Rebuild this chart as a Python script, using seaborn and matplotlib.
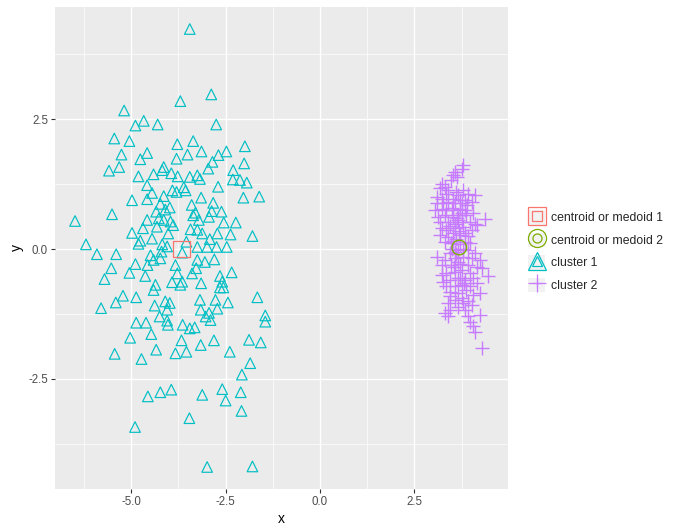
import numpy as np
import pandas as pd
import matplotlib
matplotlib.use("Agg")
import matplotlib.pyplot as plt
import seaborn as sns
from matplotlib.lines import Line2D
from matplotlib.patches import Patch
from matplotlib.legend_handler import HandlerTuple

# ===============================
# DATA
# ===============================
cluster1_x = [
    -3.45, -2.88, -3.70, -5.19, -4.67, -4.89, -4.30, -2.75, -5.45, -5.05,
    -3.78, -3.36, -1.99, -5.26, -4.58, -4.76, -3.80, -3.51, -3.14, -2.48,
    -2.69, -2.85, -2.01, -5.59, -5.32, -4.14, -2.96, -2.30, -4.81, -4.41,
    -4.18, -3.94, -3.77, -3.45, -3.25, -3.18, -2.31, -2.12, -1.94, -4.58,
    -4.45, -3.91, -3.80, -3.61, -3.56, -2.70, -4.14, -4.98, -4.58, -3.15,
    -2.03, -1.61, -2.83, -4.23, -5.51, -4.34, -4.10, -2.87, -2.61, -3.36,
    -6.49, -4.58, -4.27, -4.14, -3.96, -3.89, -3.21, -2.94, -2.55, -2.23,
    -4.32, -4.69, -4.98, -3.43, -3.25, -3.12, -2.72, -2.37, -1.79, -4.76,
    -2.92, -6.20, -4.18, -3.54, -5.91, -5.40, -4.81, -4.05, -3.65, -3.25,
    -2.99, -2.74, -2.47, -4.89, -4.49, -4.41, -4.23, -4.57, -5.53, -5.05,
    -5.71, -4.63, -3.83, -3.78, -3.25, -3.39, -3.28, -3.92, -3.65, -3.70,
    -3.15, -2.65, -2.59, -2.34, -2.65, -2.56, -4.36, -4.41, -5.22, -4.87,
    -1.66, -5.41, -5.80, -4.38, -4.10, -3.98, -4.05, -3.18, -2.77, -2.44,
    -3.16, -2.94, -2.72, -3.03, -2.90, -1.45, -1.45, -4.87, -4.61, -4.25,
    -4.05, -4.03, -3.64, -3.45, -3.32, -4.47, -5.03, -3.67, -2.81, -3.16,
    -1.88, -1.57, -5.44, -4.34, -3.83, -3.54, -2.39, -4.73, -1.85, -2.07,
    -4.56, -4.23, -3.94, -3.12, -2.59, -2.10, -2.50, -2.08, -3.46, -4.90,
    -2.99, -1.79, -4.02, -3.98, -3.30, -3.05, -4.45, -4.20, -3.40, -2.80,
]
cluster1_y = [
    4.24, 2.98, 2.85, 2.67, 2.47, 2.38, 2.40, 2.40, 2.13, 2.08,
    2.02, 2.08, 1.98, 1.82, 1.85, 1.73, 1.74, 1.82, 1.88, 1.88,
    1.81, 1.68, 1.65, 1.51, 1.58, 1.58, 1.55, 1.52, 1.40, 1.44,
    1.52, 1.46, 1.40, 1.39, 1.42, 1.35, 1.34, 1.33, 1.28, 1.23,
    1.08, 1.13, 1.10, 1.19, 1.13, 1.20, 1.02, 0.94, 0.96, 0.99,
    0.99, 1.01, 0.89, 0.87, 0.67, 0.72, 0.76, 0.73, 0.72, 0.65,
    0.54, 0.56, 0.59, 0.56, 0.53, 0.46, 0.56, 0.62, 0.51, 0.51,
    0.43, 0.40, 0.31, 0.38, 0.37, 0.30, 0.30, 0.28, 0.25, 0.16,
    0.19, 0.09, 0.09, 0.14, -0.10, -0.10, 0.10, 0.05, -0.07, 0.04,
    0.04, 0.04, 0.04, -0.29, -0.12, -0.21, -0.18, -0.31, -0.37, -0.46,
    -0.58, -0.52, -0.31, -0.47, -0.21, -0.47, -0.37, -0.64, -0.63, -0.69,
    -0.66, -0.52, -0.63, -0.45, -0.74, -0.74, -0.69, -0.79, -0.90, -0.93,
    -0.93, -1.03, -1.14, -1.09, -1.01, -1.04, -1.17, -0.98, -0.98, -1.03,
    -1.17, -1.23, -1.15, -1.30, -1.37, -1.28, -1.40, -1.42, -1.42, -1.30,
    -1.38, -1.46, -1.46, -1.53, -1.51, -1.64, -1.71, -1.76, -1.76, -1.85,
    -1.75, -1.80, -2.02, -1.94, -2.01, -1.98, -1.98, -2.12, -2.20, -2.42,
    -2.84, -2.76, -2.71, -2.81, -2.70, -2.76, -2.92, -3.12, -3.26, -3.43,
    -4.20, -4.19, 0.30, 0.80, 0.70, -0.25, 0.20, -0.05, 0.85, -0.20,
]

cluster2_x = [
    3.79, 3.75, 3.57, 3.53, 3.62, 3.48, 3.22, 3.31, 3.17, 3.40,
    3.79, 3.35, 3.09, 3.22, 3.53, 3.66, 3.93, 4.10, 3.09, 3.26,
    3.40, 3.57, 3.75, 3.84, 4.02, 3.04, 3.22, 3.35, 3.53, 3.71,
    3.84, 4.37, 3.13, 3.31, 3.53, 3.66, 3.88, 4.06, 3.17, 3.40,
    3.57, 3.75, 3.97, 4.10, 3.22, 3.35, 3.57, 3.79, 4.02, 4.15,
    3.17, 3.40, 3.53, 3.71, 3.93, 3.31, 3.48, 3.84, 3.97, 3.11,
    3.44, 3.66, 3.93, 4.10, 3.31, 3.57, 3.79, 4.02, 4.24, 3.22,
    3.48, 3.71, 3.93, 4.15, 4.28, 4.46, 3.22, 3.35, 3.57, 3.75,
    3.97, 3.26, 3.44, 3.66, 3.84, 4.06, 3.35, 3.57, 3.75, 3.97,
    4.15, 3.44, 3.66, 3.88, 4.06, 4.24, 3.40, 3.57, 3.75, 3.93,
    4.02, 3.31, 3.44, 3.66, 3.84, 4.24, 3.40, 3.93, 3.97, 4.06,
    4.10, 4.28, 3.79, 3.60, 3.70, 3.50, 3.80, 3.60, 3.45, 3.65,
    3.85, 3.55, 3.70, 3.50, 3.70, 3.90, 3.60, 3.45, 3.65, 3.75,
    3.62, 3.68, 3.58, 3.82, 3.52,
]
cluster2_y = [
    1.62, 1.55, 1.49, 1.42, 1.39, 1.33, 1.26, 1.20, 1.17, 1.13,
    1.13, 1.07, 1.01, 0.97, 0.97, 1.04, 1.07, 1.04, 0.88, 0.88,
    0.91, 0.88, 0.88, 0.94, 0.91, 0.75, 0.78, 0.75, 0.76, 0.78,
    0.75, 0.58, 0.62, 0.65, 0.62, 0.65, 0.65, 0.69, 0.53, 0.53,
    0.49, 0.53, 0.53, 0.49, 0.40, 0.37, 0.40, 0.43, 0.37, 0.46,
    0.27, 0.24, 0.30, 0.27, 0.25, 0.14, 0.11, 0.14, 0.11, -0.16,
    -0.08, -0.02, -0.02, -0.08, -0.21, -0.18, -0.15, -0.18, -0.21, -0.31,
    -0.31, -0.28, -0.31, -0.34, -0.37, -0.52, -0.50, -0.47, -0.44, -0.40,
    -0.47, -0.63, -0.60, -0.56, -0.60, -0.56, -0.72, -0.72, -0.69, -0.72,
    -0.66, -0.82, -0.85, -0.79, -0.88, -0.85, -1.04, -0.98, -0.95, -1.01,
    -1.08, -1.24, -1.17, -1.11, -1.17, -1.27, -1.30, -1.30, -1.40, -1.49,
    -1.59, -1.91, -1.04, 0.20, 0.10, 0.00, 0.00, -0.10, 0.45, 0.55,
    0.30, -0.35, -0.55, 0.80, 0.95, 0.85, 1.10, -0.90, -0.25, 0.70,
    0.60, 0.35, -0.05, -0.65, 0.15,
]

centroid_x = [-3.67, 3.69]
centroid_y = [0.00, 0.03]

labels = ["centroid or medoid 1", "centroid or medoid 2", "cluster 1", "cluster 2"]
colors = ["#F8766D", "#7CAE00", "#00BFC4", "#C77CFF"]

x_ticks = [-5.0, -2.5, 0.0, 2.5]
y_ticks = [-2.5, 0.0, 2.5]

df = pd.DataFrame({
    "x": cluster1_x + cluster2_x,
    "y": cluster1_y + cluster2_y,
    "group": ["cluster 1"] * len(cluster1_x) + ["cluster 2"] * len(cluster2_x),
})
cent = pd.DataFrame({"x": centroid_x, "y": centroid_y, "group": labels[:2]})

# ===============================
# STYLING (ggplot2 grey look)
# ===============================
sns.set_theme(style="darkgrid")
plt.rcParams["font.family"] = ["Liberation Sans", "DejaVu Sans"]

fig = plt.figure(figsize=(6.87, 5.32), dpi=100)
ax = fig.add_axes([0.0801, 0.0803, 0.6593, 0.9071])
ax.set_facecolor("#EBEBEB")

# ===============================
# POINTS
# ===============================
sub1 = df[df["group"] == "cluster 1"]
sub2 = df[df["group"] == "cluster 2"]
sns.scatterplot(data=sub1, x="x", y="y", marker="^", s=58, color=colors[2],
                linewidth=0.85, ax=ax, legend=False, zorder=3)
ax.collections[-1].set_facecolor("none")
ax.collections[-1].set_edgecolor(colors[2])

sns.scatterplot(data=sub2, x="x", y="y", marker="+", s=115, color=colors[3],
                linewidth=1.0, ax=ax, legend=False, zorder=3)
ax.collections[-1].set_edgecolor(colors[3])

sns.scatterplot(data=cent.iloc[[0]], x="x", y="y", marker="s", s=140,
                color=colors[0], linewidth=0.9, ax=ax, legend=False, zorder=4)
ax.collections[-1].set_facecolor("none")
ax.collections[-1].set_edgecolor(colors[0])
sns.scatterplot(data=cent.iloc[[1]], x="x", y="y", marker="o", s=110,
                color=colors[1], linewidth=1.0, ax=ax, legend=False, zorder=4)
ax.collections[-1].set_facecolor("none")
ax.collections[-1].set_edgecolor(colors[1])

# ===============================
# AXES
# ===============================
ax.set_xlim(-7.02, 4.98)
ax.set_ylim(-4.63, 4.67)
ax.set_xticks(x_ticks)
ax.set_yticks(y_ticks)
ax.set_xticklabels([f"{t:.1f}" for t in x_ticks])
ax.set_yticklabels([f"{t:.1f}" for t in y_ticks])
ax.set_xticks([-6.25, -3.75, -1.25, 1.25, 3.75], minor=True)
ax.set_yticks([-3.75, -1.25, 1.25, 3.75], minor=True)
ax.grid(which="major", color="white", linewidth=1.0)
ax.grid(which="minor", color="white", linewidth=0.5)
ax.set_axisbelow(True)
for sp in ax.spines.values():
    sp.set_visible(False)
ax.tick_params(axis="both", which="major", length=3, width=0.8, color="#333333",
               labelsize=8.3, labelcolor="#4D4D4D", pad=2, bottom=True, left=True)
ax.tick_params(axis="both", which="minor", length=0)
ax.set_xlabel("x", fontsize=10, color="black", labelpad=3)
ax.set_ylabel("y", fontsize=10, color="black", labelpad=3)

# ===============================
# LEGEND (grey key box, big + small glyph like the ggplot key)
# ===============================
marks = ["s", "o", "^", "+"]
handles = []
for m, c in zip(marks, colors):
    box = Patch(facecolor="#F2F2F2", edgecolor="none")
    big = Line2D([], [], marker=m, ls="none", ms=13, mfc="none", mec=c, mew=0.9)
    small = Line2D([], [], marker=m, ls="none", ms=6.5, mfc="none", mec=c, mew=0.9)
    handles.append((box, big, small))
fig.legend(handles, labels, handler_map={tuple: HandlerTuple(ndivide=1, pad=0)},
           loc="center left", bbox_to_anchor=(0.761, 0.528), frameon=False,
           fontsize=8.8, handlelength=1.45, handleheight=1.45, handletextpad=0.45,
           labelspacing=0.65, borderaxespad=0)

fig.savefig("out.png", dpi=100)
